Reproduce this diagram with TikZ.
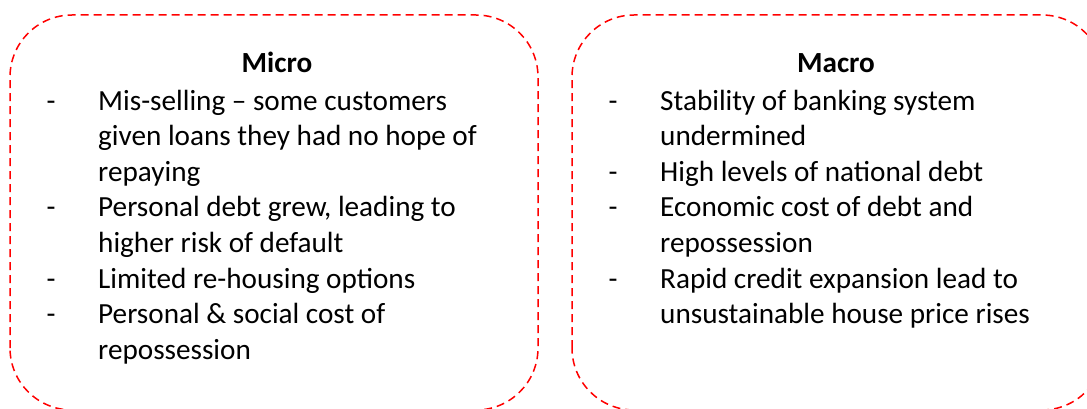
\documentclass[tikz,border=0pt]{standalone}
\usepackage{fontspec}
\setmainfont{Carlito}
\usetikzlibrary{positioning}
\tikzset{
  box/.style={draw=red, dash pattern=on 8pt off 5pt, line width=1.5pt, rounded corners=62pt},
  txt/.style={font=\fontsize{29.2}{35.6}\selectfont},
  head/.style={font=\fontsize{29.2}{35.6}\selectfont\bfseries, anchor=base},
  dashmark/.style={txt, anchor=base, inner sep=0pt},
  itemlist/.style={txt, anchor=base west, inner sep=0pt},
}
\begin{document}
\begin{tikzpicture}[x=1pt,y=1pt]
\useasboundingbox (0,0) rectangle (1087,408);
% the two dashed boxes
\draw[box] (10,-2) rectangle (538,393);
\draw[box] (572,-2) rectangle (1104,393);
% Micro
\node[head] (micro) at (277,335) {Micro};
\node[itemlist] (microlist) at (98,298) {\begin{tabular}[t]{@{}l@{}}
Mis-selling – some customers\\
given loans they had no hope of\\
repaying\\
Personal debt grew, leading to\\
higher risk of default\\
Limited re-housing options\\
Personal \& social cost of\\
repossession
\end{tabular}};
\foreach \r in {0,3,5,6}{\node[dashmark] (mdash\r) at (51,298-35.6*\r) {-};}
% Macro
\node[head] (macro) at (836,335) {Macro};
\node[itemlist] (macrolist) at (660,298) {\begin{tabular}[t]{@{}l@{}}
Stability of banking system\\
undermined\\
High levels of national debt\\
Economic cost of debt and\\
repossession\\
Rapid credit expansion lead to\\
unsustainable house price rises
\end{tabular}};
\foreach \r in {0,2,3,5}{\node[dashmark] (rdash\r) at (613,298-35.6*\r) {-};}
\end{tikzpicture}
\end{document}
